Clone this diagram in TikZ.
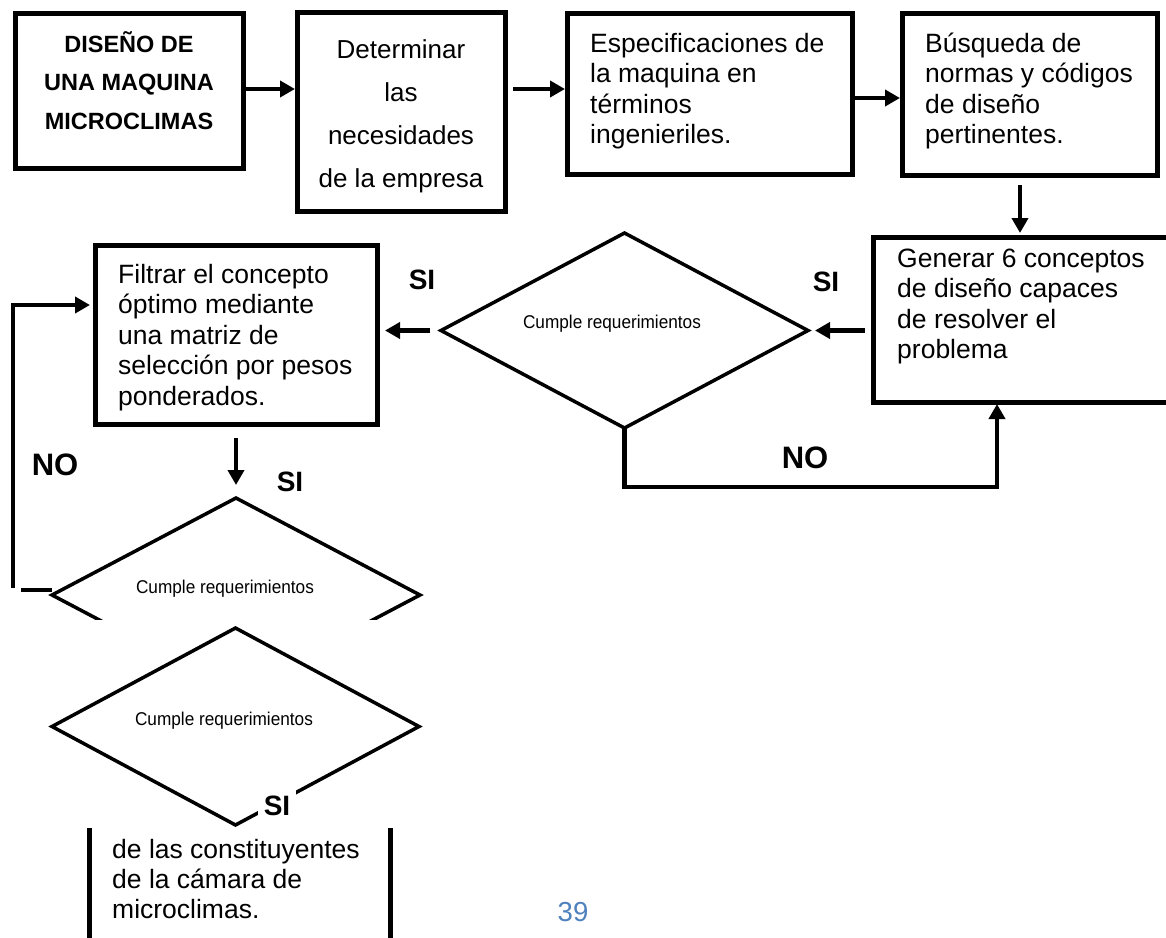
\documentclass[tikz,border=0pt]{standalone}
\usepackage{fontspec}
\setmainfont{Liberation Sans}
\newfontfamily\narrowsans[FakeStretch=0.93]{Liberation Sans}
\usetikzlibrary{arrows.meta,shapes.geometric}
\definecolor{pagenum}{HTML}{4F81BD}
\begin{document}
\begin{tikzpicture}[x=1pt,y=-1pt,
  box/.style={draw, rectangle, line width=5pt, inner sep=0pt, outer sep=0pt},
  decision/.style={draw, diamond, line width=3.5pt, inner sep=0pt, outer sep=0pt},
  arr/.style={line width=4.2pt, -{Triangle[length=15pt,width=16pt]}},
  body/.style={font=\fontsize{26.5}{30.5}\selectfont, inner sep=0pt, anchor=base west},
  bodyc/.style={font=\fontsize{26}{30}\selectfont, inner sep=0pt, anchor=base},
  title/.style={font=\fontsize{23.5}{28}\selectfont\bfseries, inner sep=0pt, anchor=base},
  dtext/.style={font=\narrowsans\fontsize{18.5}{22}\selectfont, inner sep=0pt, anchor=base},
  yes/.style={font=\fontsize{28}{32}\selectfont\bfseries, inner sep=0pt},
  no/.style={font=\fontsize{31}{36}\selectfont\bfseries, inner sep=0pt}
]
\fill[white] (0,0) rectangle (1166,937);
\useasboundingbox (0,0) rectangle (1166,937);

% ---- top row of process boxes
\node[box, minimum width=228pt, minimum height=155pt] (b1) at (129,90.5) {};
\node[box, minimum width=208pt, minimum height=199pt] (b2) at (401,111.5) {};
\node[box, minimum width=285pt, minimum height=161pt] (b3) at (709.5,93.5) {};
\node[box, minimum width=255pt, minimum height=162pt] (b4) at (1029.5,94) {};

\foreach \t [count=\i] in {DISEÑO DE, UNA MAQUINA, MICROCLIMAS}
  \node[title] (b1l\i) at (129,{52+38.5*(\i-1)}) {\t};
\foreach \t [count=\i] in {Determinar, las, necesidades, de la empresa}
  \node[bodyc] (b2l\i) at (401,{58+43.3*(\i-1)}) {\t};
\foreach \t [count=\i] in {Especificaciones de, la maquina en, términos, ingenieriles.}
  \node[body] (b3l\i) at (590,{52+30.5*(\i-1)}) {\t};
\foreach \t [count=\i] in {Búsqueda de, normas y códigos, de diseño, pertinentes.}
  \node[body] (b4l\i) at (925,{52+30.5*(\i-1)}) {\t};

% ---- concept generation and first decision
\node[box, minimum width=317pt, minimum height=165pt] (b5) at (1031.5,319.5) {};
\foreach \t [count=\i] in {Generar 6 conceptos, de diseño capaces, de resolver el, problema}
  \node[body] (b5l\i) at (897,{267+30.5*(\i-1)}) {\t};

\node[decision, minimum width=367pt, minimum height=195pt] (d1) at (624.5,330.5) {};
\node[dtext] (d1t) at (612,328) {Cumple requerimientos};

% ---- concept filtering box
\node[box, minimum width=282pt, minimum height=179pt] (b6) at (236,334.5) {};
\foreach \t [count=\i] in {Filtrar el concepto, óptimo mediante, una matriz de, selección por pesos, ponderados.}
  \node[body] (b6l\i) at (118,{283+30.5*(\i-1)}) {\t};

% ---- second decision, cut at the page edge
\begin{scope}
  \clip (0,0) rectangle (1166,619);
  \node[decision, minimum width=368pt, minimum height=194pt] (d2) at (236,595) {};
\end{scope}
\node[dtext] (d2t) at (225,593) {Cumple requerimientos};

% ---- third decision
\node[decision, minimum width=367pt, minimum height=197pt] (d3) at (235.5,726.5) {};
\node[dtext] (d3t) at (224,725) {Cumple requerimientos};

% ---- last box, only its sides remain visible
\begin{scope}
  \clip (0,828) rectangle (1166,960);
  \node[box, minimum width=301pt, minimum height=200pt] (b7) at (239.5,900) {};
\end{scope}
\foreach \t [count=\i] in {de las constituyentes, de la cámara de, microclimas.}
  \node[body] (b7l\i) at (112,{858+30*(\i-1)}) {\t};

% ---- connectors
\draw[arr, shorten <=2pt, shorten >=2pt] ([yshift=1.5pt]b1.east) -- ([yshift=1.5pt]b1.east -| b2.west);
\draw[arr, shorten <=8pt, shorten >=2pt] ([yshift=4.5pt]b3.west -| b2.east) -- ([yshift=4.5pt]b3.west);
\draw[arr, shorten >=2pt] ([yshift=-4pt]b4.west -| b3.east) -- ([yshift=-4pt]b4.west);
\draw[arr, shorten <=10pt, shorten >=4pt] ([xshift=-9.5pt]b4.south) -- ([xshift=-9.5pt]b4.south |- b5.north);
\draw[arr, shorten <=8pt, shorten >=7pt] (d1.east -| b5.west) -- (d1.east);
\draw[arr, shorten <=11pt, shorten >=8pt] (d1.west) -- (d1.west -| b6.east);
\draw[arr, shorten >=2pt] (d1.south) -- ++(0,59) -| ([xshift=-34.5pt]b5.south);
\draw[arr, shorten <=14pt, shorten >=13pt] (b6.south) -- (d2.north);
\draw[line width=4.2pt] ([yshift=5pt]d2.west) -- ++(-31,0);
\draw[arr, shorten >=5pt] ([shift={(-39pt,7pt)}]d2.west) |- ([yshift=29.5pt]b6.west);

% ---- branch labels
\node[yes] (si1) at (422,280) {SI};
\node[yes] (si2) at (826,282) {SI};
\node[yes] (si3) at (290,482) {SI};
\node[yes, fill=white, inner xsep=6pt, inner ysep=12pt] (si4) at (277,806) {SI};
\node[no] (no1) at (55,465) {NO};
\node[no] (no2) at (805,458) {NO};

% ---- page number
\node[font=\fontsize{27.5}{32}\selectfont, text=pagenum, inner sep=0pt] (pg) at (573,912) {39};
\end{tikzpicture}
\end{document}
